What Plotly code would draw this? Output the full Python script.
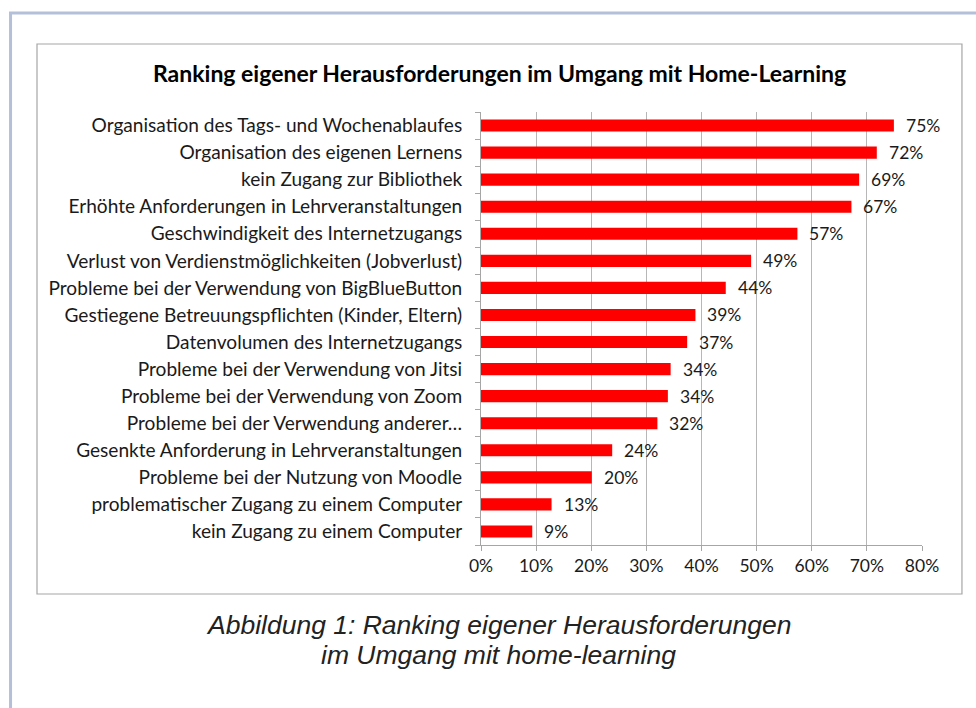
import plotly.graph_objects as go

categories = [
    "Organisation des Tags- und Wochenablaufes",
    "Organisation des eigenen Lernens",
    "kein Zugang zur Bibliothek",
    "Erhöhte Anforderungen in Lehrveranstaltungen",
    "Geschwindigkeit des Internetzugangs",
    "Verlust von Verdienstmöglichkeiten (Jobverlust)",
    "Probleme bei der Verwendung von BigBlueButton",
    "Gestiegene Betreuungspflichten (Kinder, Eltern)",
    "Datenvolumen des Internetzugangs",
    "Probleme bei der Verwendung von Jitsi",
    "Probleme bei der Verwendung von Zoom",
    "Probleme bei der Verwendung anderer…",
    "Gesenkte Anforderung in Lehrveranstaltungen",
    "Probleme bei der Nutzung von Moodle",
    "problematischer Zugang zu einem Computer",
    "kein Zugang zu einem Computer",
]
values = [74.9, 71.8, 68.6, 67.2, 57.4, 49.0, 44.4, 38.9, 37.4, 34.4, 33.9, 32.0, 23.8, 20.1, 12.8, 9.3]
value_labels = ["75%", "72%", "69%", "67%", "57%", "49%", "44%", "39%", "37%", "34%", "34%", "32%", "24%", "20%", "13%", "9%"]
x_ticks = [0, 10, 20, 30, 40, 50, 60, 70, 80]
x_tick_labels = ["0%", "10%", "20%", "30%", "40%", "50%", "60%", "70%", "80%"]

title_text = "Ranking eigener Herausforderungen im Umgang mit Home-Learning"
caption_lines = ["Abbildung 1: Ranking eigener Herausforderungen", "im Umgang mit home-learning"]

W, H = 976, 708
L, R, T, B = 480.5, 922, 112, 545  # plot area in pixels

def px_x(px):
    return (px - L) / (R - L)

def px_y(py):
    return (B - py) / (B - T)

FONT = "Lato, 'Open Sans', sans-serif"

fig = go.Figure()
fig.add_trace(go.Bar(
    y=categories,
    x=values,
    orientation="h",
    marker=dict(color="#ff0000", line=dict(width=0)),
    hoverinfo="skip",
))

for cat, v, lab in zip(categories, values, value_labels):
    fig.add_annotation(
        x=v, y=cat, xref="x", yref="y",
        text=lab, showarrow=False, xanchor="left", xshift=10,
        font=dict(family=FONT, size=17.5, color="#1a1a1a"),
    )

# outer page frame (light blue-grey)
fig.add_shape(type="line", xref="paper", yref="paper",
              x0=px_x(9.5), x1=px_x(9.5), y0=px_y(12), y1=px_y(712),
              line=dict(color="#b4c0da", width=3), layer="below")
fig.add_shape(type="line", xref="paper", yref="paper",
              x0=px_x(8), x1=px_x(980), y0=px_y(13), y1=px_y(13),
              line=dict(color="#b4c0da", width=3), layer="below")
# chart box
fig.add_shape(type="rect", xref="paper", yref="paper",
              x0=px_x(36), x1=px_x(962), y0=px_y(44), y1=px_y(594),
              line=dict(color="#a6a6a6", width=1.2), fillcolor="rgba(0,0,0,0)", layer="below")

# title
fig.add_annotation(
    xref="paper", yref="paper", x=px_x(499), y=px_y(73),
    text="<b>" + title_text + "</b>", showarrow=False,
    xanchor="center", yanchor="middle",
    font=dict(family=FONT, size=23, color="#000000"),
)
# caption (two lines)
for line, cy in zip(caption_lines, [625, 655]):
    fig.add_annotation(
        xref="paper", yref="paper", x=px_x(498), y=px_y(cy),
        text="<i>" + line + "</i>", showarrow=False,
        xanchor="center", yanchor="middle",
        font=dict(family="'Liberation Sans', Arial, sans-serif", size=26.5, color="#222222"),
    )

fig.update_layout(
    width=W, height=H,
    margin=dict(l=L, r=W - R, t=T, b=H - B, pad=0),
    paper_bgcolor="white", plot_bgcolor="white",
    showlegend=False,
    bargap=0.55,
    font=dict(family=FONT, size=19.1, color="#1a1a1a"),
    xaxis=dict(
        range=[0, 80], tickvals=x_ticks, ticktext=x_tick_labels,
        showgrid=True, gridcolor="#b7b7b7", gridwidth=1,
        showline=True, linecolor="#a6a6a6", linewidth=1,
        ticks="outside", ticklen=5, tickcolor="#a6a6a6",
        zeroline=False, fixedrange=True,
        tickfont=dict(family=FONT, size=17.5, color="#1a1a1a"),
    ),
    yaxis=dict(
        categoryorder="array", categoryarray=categories[::-1],
        autorange=False, range=[-0.5, len(categories) - 0.5],
        showline=True, linecolor="#a6a6a6", linewidth=1,
        ticks="outside", ticklen=5, tickcolor="#a6a6a6", tickson="boundaries",
        ticklabelstandoff=14,
        showgrid=False, zeroline=False, fixedrange=True,
        tickfont=dict(family=FONT, size=19.1, color="#1a1a1a"),
    ),
)

fig.write_html("out.html", config={"displayModeBar": False},
               post_script="document.body.style.margin='0px';document.body.style.overflow='hidden';")
